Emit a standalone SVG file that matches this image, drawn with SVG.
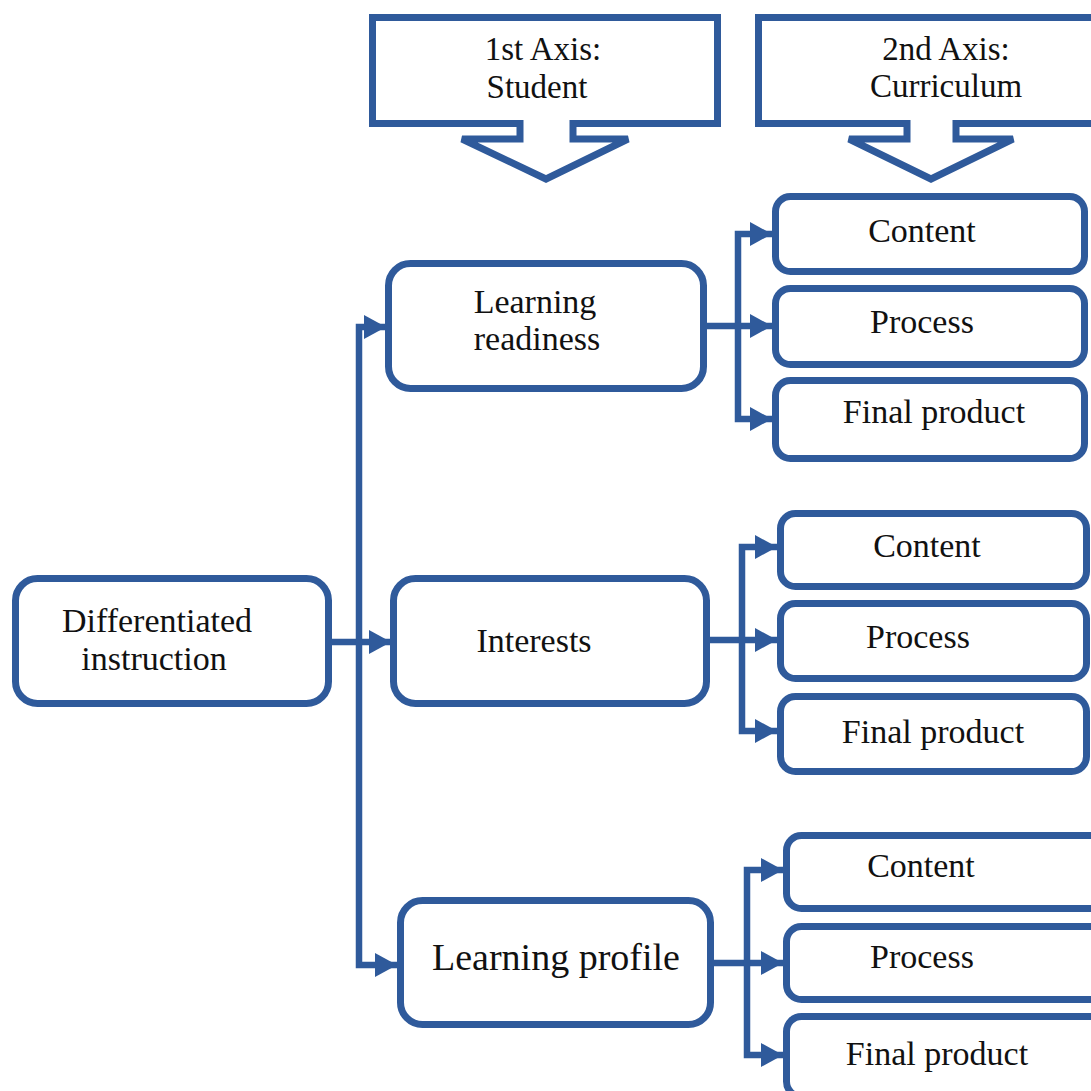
<svg xmlns="http://www.w3.org/2000/svg" width="1091" height="1091" viewBox="0 0 1091 1091">
<style>
.box{fill:#fff;stroke:#2F5A9B;stroke-width:7}
.co{fill:#fff;stroke:#2F5A9B;stroke-width:7;stroke-linejoin:miter}
.ln{fill:none;stroke:#2F5A9B;stroke-width:6.5}
text{font-family:"Liberation Serif","Times New Roman",serif;font-size:34px;fill:#111;text-anchor:middle}
.ax{font-size:33px}
.big{font-size:38px}
</style>
<defs>
<marker id="ah" markerUnits="userSpaceOnUse" markerWidth="22" markerHeight="24" refX="22" refY="12" orient="auto">
<path d="M0,0 L22,12 L0,24 Z" fill="#2F5A9B"/>
</marker>
</defs>
<rect width="1091" height="1091" fill="#fff"/>
<g id="axis1">
<path class="co" d="M372.5,17.5 H717.5 V123.5 H573 V139 H628 L546,179 L462,139 H520 V123.5 H372.5 Z"/>
<text class="ax" x="543" y="60">1st Axis:</text>
<text class="ax" x="537" y="98">Student</text>
</g>
<g id="axis2">
<path class="co" d="M758.5,17.5 H1100 V123.5 H956 V139 H1013 L931,179 L849,139 H907 V123.5 H758.5 Z"/>
<text class="ax" x="946" y="60">2nd Axis:</text>
<text class="ax" x="946" y="97">Curriculum</text>
</g>
<g id="connectors">
<path class="ln" marker-end="url(#ah)" d="M328,642 H391"/>
<path class="ln" marker-end="url(#ah)" d="M359,642 V327 H386"/>
<path class="ln" marker-end="url(#ah)" d="M359,642 V965 H397"/>
<path class="ln" marker-end="url(#ah)" d="M703,326 H772"/>
<path class="ln" marker-end="url(#ah)" d="M738,326 V234 H772"/>
<path class="ln" marker-end="url(#ah)" d="M738,326 V419 H772"/>
<path class="ln" marker-end="url(#ah)" d="M706,640 H777"/>
<path class="ln" marker-end="url(#ah)" d="M742,640 V547 H777"/>
<path class="ln" marker-end="url(#ah)" d="M742,640 V731 H777"/>
<path class="ln" marker-end="url(#ah)" d="M710,963 H783"/>
<path class="ln" marker-end="url(#ah)" d="M747,963 V870 H783"/>
<path class="ln" marker-end="url(#ah)" d="M747,963 V1055 H783"/>
</g>
<g id="differentiated-instruction">
<rect class="box" x="15.5" y="578.5" width="313" height="125" rx="22"/>
<text x="157" y="632">Differentiated</text>
<text x="154" y="670">instruction</text>
</g>
<g id="learning-readiness">
<rect class="box" x="388.5" y="263.5" width="315" height="125" rx="22"/>
<text x="535" y="313">Learning</text>
<text x="537" y="350">readiness</text>
</g>
<g id="interests">
<rect class="box" x="393.5" y="578.5" width="313" height="125" rx="22"/>
<text x="534" y="652">Interests</text>
</g>
<g id="learning-profile">
<rect class="box" x="400.5" y="900.5" width="310" height="124" rx="22"/>
<text class="big" x="556" y="970">Learning profile</text>
</g>
<g id="content-1">
<rect class="box" x="775.5" y="196.5" width="309" height="75" rx="15"/>
<text x="922" y="242">Content</text>
</g>
<g id="process-1">
<rect class="box" x="775.5" y="288.5" width="309" height="76" rx="15"/>
<text x="922" y="333">Process</text>
</g>
<g id="final-product-1">
<rect class="box" x="775.5" y="380.5" width="309" height="78" rx="15"/>
<text x="934" y="423">Final product</text>
</g>
<g id="content-2">
<rect class="box" x="780.5" y="513.5" width="306" height="73" rx="15"/>
<text x="927" y="557">Content</text>
</g>
<g id="process-2">
<rect class="box" x="780.5" y="603.5" width="306" height="75" rx="15"/>
<text x="918" y="648">Process</text>
</g>
<g id="final-product-2">
<rect class="box" x="780.5" y="696.5" width="306" height="75" rx="15"/>
<text x="933" y="743">Final product</text>
</g>
<g id="content-3">
<rect class="box" x="786.5" y="835.5" width="320" height="73" rx="15"/>
<text x="921" y="877">Content</text>
</g>
<g id="process-3">
<rect class="box" x="786.5" y="926.5" width="320" height="73" rx="15"/>
<text x="922" y="968">Process</text>
</g>
<g id="final-product-3">
<rect class="box" x="786.5" y="1016.5" width="320" height="80" rx="15"/>
<text x="937" y="1065">Final product</text>
</g>
</svg>
